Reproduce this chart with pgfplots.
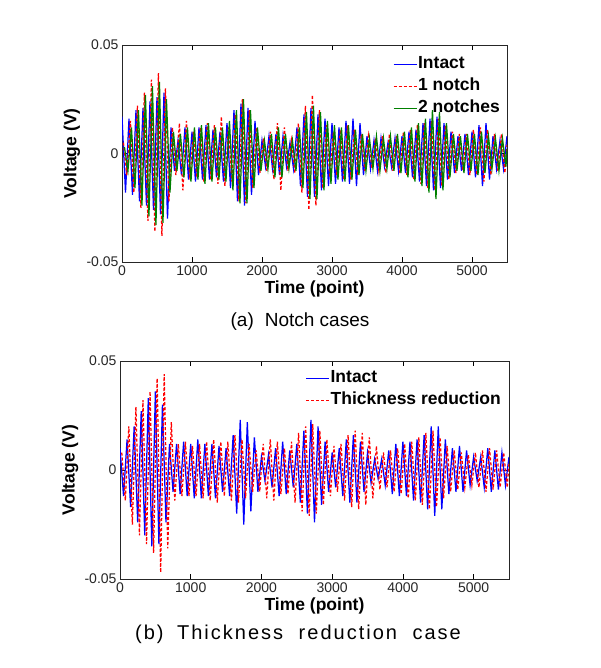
\documentclass[border=0pt]{standalone}
\usepackage{fontspec}
\setmainfont{Liberation Sans}
\usepackage{pgfplots}
\pgfplotsset{compat=1.18}
\definecolor{mblue}{rgb}{0,0,1}
\definecolor{mred}{rgb}{1,0,0}
\definecolor{mgreen}{rgb}{0,0.5,0}
\pgfplotsset{
 panel/.style={
  scale only axis,
  xmin=0, xmax=5500, ymin=-0.05, ymax=0.05,
  xtick={0,1000,2000,3000,4000,5000}, xticklabels={0,1000,2000,3000,4000,5000},
  ytick={-0.05,0,0.05}, yticklabels={-0.05,0,0.05},
  scaled x ticks=false, scaled y ticks=false,
  xtick pos=both, ytick pos=both, xticklabel pos=lower, yticklabel pos=left,
  tick align=inside, major tick length=5pt,
  tick style={black, line width=0.6pt},
  axis line style={line width=0.8pt, black!85},
  ticklabel style={font=\fontsize{14}{14}\selectfont, text=black!85},
  xlabel={Time (point)}, ylabel={Voltage (V)},
  label style={font=\bfseries\fontsize{17.5}{17.5}\selectfont},
  legend style={draw=none, fill=none, font=\bfseries\fontsize{17.5}{17.5}\selectfont,
    nodes={inner sep=1pt, text height=12.5pt, text depth=3.5pt}, row sep=4pt},
  legend cell align=left,
  legend image code/.code={\draw[#1, line width=0.9pt] (0pt,0pt) -- (23pt,0pt);},
 },
 sig/.style={line width=1.25pt},
}
\begin{document}
\begin{tikzpicture}
\path[use as bounding box] (0pt,0pt) rectangle (601pt,668pt);
% ---------------- (a) Notch cases ----------------
\begin{axis}[panel, at={(122pt,406pt)}, anchor=south west, width=385pt, height=217pt,
  xlabel style={at={(axis description cs:0.5,-0.124)}, anchor=center},
  ylabel style={at={(axis description cs:-0.13,0.5)}, anchor=center},
  legend style={at={(axis description cs:1,1)}, anchor=north east, xshift=-3pt, yshift=-8pt}]
\addplot[sig, draw=mblue] coordinates {
(0,.017)(50,-.018)(100,.016)(150,-.019)(200,.020)(250,-.022)(300,.021)(350,-.024)(400,.024)(450,-.026)
(500,.026)(550,-.028)(600,.028)(650,-.030)(700,.012)(750,-.008)(800,.006)(850,-.010)(900,.012)(950,-.012)
(1000,.010)(1050,-.013)(1100,.012)(1150,-.012)(1200,.013)(1250,-.012)(1300,.011)(1350,-.011)(1400,.010)(1450,-.013)
(1500,.014)(1550,-.016)(1600,.020)(1650,-.022)(1700,.023)(1750,-.024)(1800,.021)(1850,-.019)(1900,.015)(1950,-.010)
(2000,.006)(2050,-.006)(2100,.008)(2150,-.007)(2200,.009)(2250,-.010)(2300,.008)(2350,-.006)(2400,.005)(2450,-.007)
(2500,.012)(2550,-.015)(2600,.018)(2650,-.020)(2700,.021)(2750,-.020)(2800,.018)(2850,-.017)(2900,.016)(2950,-.015)
(3000,.014)(3050,-.014)(3100,.012)(3150,-.013)(3200,.015)(3250,-.014)(3300,.016)(3350,-.015)(3400,.014)(3450,-.010)
(3500,.008)(3550,-.007)(3600,.006)(3650,-.008)(3700,.007)(3750,-.006)(3800,.005)(3850,-.006)(3900,.007)(3950,-.008)
(4000,.008)(4050,-.009)(4100,.010)(4150,-.011)(4200,.011)(4250,-.013)(4300,.014)(4350,-.015)(4400,.016)(4450,-.017)
(4500,.017)(4550,-.016)(4600,.014)(4650,-.012)(4700,.010)(4750,-.009)(4800,.008)(4850,-.008)(4900,.009)(4950,-.010)
(5000,.010)(5050,-.011)(5100,.013)(5150,-.015)(5200,.014)(5250,-.012)(5300,.008)(5350,-.007)(5400,.006)(5450,-.007)(5500,.008)};
\addlegendentry{Intact}
\addplot[sig, draw=mred, dash pattern=on 3pt off 2pt] coordinates {
(20,.005)(70,-.010)(120,.015)(170,-.018)(220,.022)(270,-.025)(320,.028)(370,-.031)(420,.034)(470,-.036)
(520,.037)(570,-.038)(620,.030)(670,-.022)(720,.012)(770,-.010)(820,.014)(870,-.017)(920,.015)(970,-.012)
(1020,.010)(1070,-.011)(1120,.012)(1170,-.013)(1220,.014)(1270,-.012)(1320,.013)(1370,-.014)(1420,.017)(1470,-.015)
(1520,.012)(1570,-.013)(1620,.018)(1670,-.022)(1720,.025)(1770,-.023)(1820,.020)(1870,-.016)(1920,.012)(1970,-.009)
(2020,.007)(2070,-.008)(2120,.010)(2170,-.012)(2220,.014)(2270,-.017)(2320,.012)(2370,-.008)(2420,.006)(2470,-.009)
(2520,.014)(2570,-.018)(2620,.022)(2670,-.026)(2720,.027)(2770,-.024)(2820,.020)(2870,-.016)(2920,.013)(2970,-.011)
(3020,.010)(3070,-.010)(3120,.011)(3170,-.012)(3220,.013)(3270,-.012)(3320,.011)(3370,-.010)(3420,.009)(3470,-.008)
(3520,.008)(3570,-.007)(3620,.007)(3670,-.008)(3720,.008)(3770,-.009)(3820,.009)(3870,-.008)(3920,.008)(3970,-.009)
(4020,.010)(4070,-.010)(4120,.011)(4170,-.012)(4220,.013)(4270,-.014)(4320,.014)(4370,-.016)(4420,.015)(4470,-.017)
(4520,.016)(4570,-.015)(4620,.013)(4670,-.012)(4720,.010)(4770,-.009)(4820,.009)(4870,-.008)(4920,.009)(4970,-.010)
(5020,.011)(5070,-.010)(5120,.012)(5170,-.013)(5220,.011)(5270,-.010)(5320,.009)(5370,-.008)(5420,.009)(5470,-.009)(5500,.004)};
\addlegendentry{1 notch}
\addplot[sig, draw=mgreen] coordinates {
(35,.003)(85,-.008)(135,.012)(185,-.016)(235,.020)(285,-.024)(335,.027)(385,-.029)(435,.031)(485,-.033)
(535,.033)(585,-.032)(635,.025)(685,-.018)(735,.010)(785,-.008)(835,.009)(885,-.011)(935,.012)(985,-.013)
(1035,.012)(1085,-.012)(1135,.013)(1185,-.014)(1235,.014)(1285,-.013)(1335,.012)(1385,-.012)(1435,.012)(1485,-.013)
(1535,.015)(1585,-.017)(1635,.020)(1685,-.023)(1735,.025)(1785,-.023)(1835,.020)(1885,-.016)(1935,.012)(1985,-.008)
(2035,.006)(2085,-.007)(2135,.009)(2185,-.011)(2235,.012)(2285,-.011)(2335,.009)(2385,-.007)(2435,.006)(2485,-.008)
(2535,.012)(2585,-.016)(2635,.019)(2685,-.021)(2735,.022)(2785,-.021)(2835,.019)(2885,-.017)(2935,.015)(2985,-.014)
(3035,.013)(3085,-.012)(3135,.012)(3185,-.013)(3235,.013)(3285,-.012)(3335,.011)(3385,-.010)(3435,.009)(3485,-.008)
(3535,.007)(3585,-.007)(3635,.008)(3685,-.008)(3735,.007)(3785,-.007)(3835,.008)(3885,-.008)(3935,.009)(3985,-.009)
(4035,.010)(4085,-.011)(4135,.012)(4185,-.013)(4235,.014)(4285,-.015)(4335,.016)(4385,-.018)(4435,.020)(4485,-.021)
(4535,.019)(4585,-.017)(4635,.014)(4685,-.011)(4735,.009)(4785,-.008)(4835,.008)(4885,-.009)(4935,.009)(4985,-.008)
(5035,.009)(5085,-.010)(5135,.010)(5185,-.009)(5235,.008)(5285,-.007)(5335,.007)(5385,-.008)(5435,.007)(5485,-.006)(5500,.002)};
\addlegendentry{2 notches}
\end{axis}
% ---------------- (b) Thickness reduction ----------------
\begin{axis}[panel, at={(120pt,89pt)}, anchor=south west, width=389pt, height=218pt,
  xlabel style={at={(axis description cs:0.5,-0.122)}, anchor=center},
  ylabel style={at={(axis description cs:-0.1285,0.5)}, anchor=center},
  legend style={at={(axis description cs:1,1)}, anchor=north east, xshift=-4pt, yshift=-6pt}]
\addplot[sig, draw=mblue] coordinates {
(0,.010)(50,-.012)(100,.014)(150,-.017)(200,.020)(250,-.024)(300,.027)(350,-.030)(400,.033)(450,-.035)
(500,.036)(550,-.034)(600,.030)(650,-.024)(700,.012)(750,-.010)(800,.012)(850,-.011)(900,.013)(950,-.012)
(1000,.012)(1050,-.013)(1100,.014)(1150,-.013)(1200,.012)(1250,-.012)(1300,.012)(1350,-.013)(1400,.011)(1450,-.010)
(1500,.010)(1550,-.012)(1600,.016)(1650,-.020)(1700,.023)(1750,-.025)(1800,.022)(1850,-.019)(1900,.015)(1950,-.010)
(2000,.006)(2050,-.005)(2100,.007)(2150,-.008)(2200,.010)(2250,-.012)(2300,.013)(2350,-.011)(2400,.009)(2450,-.008)
(2500,.012)(2550,-.015)(2600,.018)(2650,-.020)(2700,.023)(2750,-.024)(2800,.020)(2850,-.016)(2900,.013)(2950,-.010)
(3000,.008)(3050,-.008)(3100,.010)(3150,-.012)(3200,.014)(3250,-.015)(3300,.016)(3350,-.015)(3400,.013)(3450,-.010)
(3500,.008)(3550,-.006)(3600,.005)(3650,-.004)(3700,.005)(3750,-.007)(3800,.009)(3850,-.011)(3900,.012)(3950,-.012)
(4000,.013)(4050,-.012)(4100,.013)(4150,-.014)(4200,.014)(4250,-.015)(4300,.016)(4350,-.018)(4400,.020)(4450,-.021)
(4500,.020)(4550,-.018)(4600,.014)(4650,-.011)(4700,.010)(4750,-.010)(4800,.011)(4850,-.010)(4900,.009)(4950,-.007)
(5000,.006)(5050,-.005)(5100,.006)(5150,-.008)(5200,.010)(5250,-.010)(5300,.009)(5350,-.009)(5400,.008)(5450,-.007)(5500,.006)};
\addlegendentry{Intact}
\addplot[sig, draw=mred, dash pattern=on 3pt off 2pt] coordinates {
(25,.008)(75,-.014)(125,.020)(175,-.025)(225,.029)(275,-.030)(325,.032)(375,-.034)(425,.036)(475,-.038)
(525,.042)(575,-.047)(625,.044)(675,-.036)(725,.022)(775,-.014)(825,.012)(875,-.012)(925,.013)(975,-.012)
(1025,.011)(1075,-.012)(1125,.012)(1175,-.013)(1225,.013)(1275,-.014)(1325,.014)(1375,-.015)(1425,.013)(1475,-.012)
(1525,.013)(1575,-.014)(1625,.016)(1675,-.015)(1725,.014)(1775,-.013)(1825,.012)(1875,-.010)(1925,.009)(1975,-.010)
(2025,.012)(2075,-.013)(2125,.014)(2175,-.014)(2225,.013)(2275,-.011)(2325,.010)(2375,-.011)(2425,.013)(2475,-.015)
(2525,.017)(2575,-.019)(2625,.020)(2675,-.021)(2725,.021)(2775,-.020)(2825,.018)(2875,-.016)(2925,.014)(2975,-.012)
(3025,.011)(3075,-.010)(3125,.012)(3175,-.014)(3225,.016)(3275,-.017)(3325,.018)(3375,-.018)(3425,.017)(3475,-.016)
(3525,.015)(3575,-.013)(3625,.011)(3675,-.009)(3725,.008)(3775,-.008)(3825,.009)(3875,-.010)(3925,.010)(3975,-.011)
(4025,.012)(4075,-.013)(4125,.013)(4175,-.014)(4225,.015)(4275,-.016)(4325,.017)(4375,-.018)(4425,.018)(4475,-.017)
(4525,.015)(4575,-.013)(4625,.011)(4675,-.010)(4725,.009)(4775,-.009)(4825,.008)(4875,-.008)(4925,.007)(4975,-.007)
(5025,.008)(5075,-.008)(5125,.009)(5175,-.010)(5225,.010)(5275,-.009)(5325,.009)(5375,-.008)(5425,.008)(5475,-.008)(5500,.003)};
\addlegendentry{Thickness reduction}
\end{axis}
\node[font=\fontsize{19}{19}\selectfont] at (300pt,346pt) {(a)\hspace{0.3em} Notch cases};
\node[font=\fontsize{20}{20}\selectfont\addfontfeature{LetterSpace=10}] at (298pt,34pt) {(b)\hspace{0.3em} Thickness\hspace{0.4em} reduction\hspace{0.4em} case};
\end{tikzpicture}
\end{document}
